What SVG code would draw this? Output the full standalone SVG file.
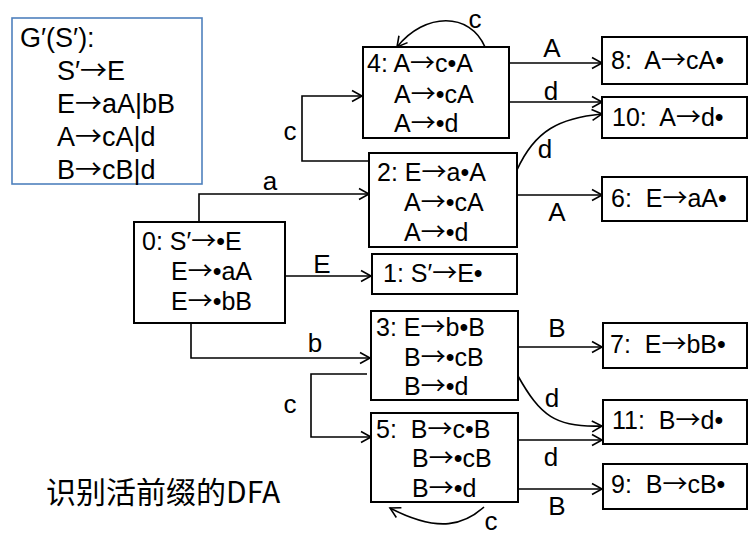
<svg xmlns="http://www.w3.org/2000/svg" width="755" height="551" viewBox="0 0 755 551">
<style>
.box{fill:#fff;stroke:#000;stroke-width:2}
.t{font-family:"Liberation Sans",Arial,sans-serif;font-size:25px;fill:#000;white-space:pre}
.g{font-size:27px}
.ar{font-family:"Noto Sans CJK SC",sans-serif}
.lbl{font-family:"Liberation Sans",Arial,sans-serif;font-size:26px;fill:#000;text-anchor:middle}
.e{fill:none;stroke:#000;stroke-width:1.6;marker-end:url(#ah)}
</style>
<defs>
<marker id="ah" markerUnits="userSpaceOnUse" markerWidth="14" markerHeight="14" refX="11" refY="7" orient="auto">
<path d="M1,1.5 L11,7 L1,12.5" fill="none" stroke="#000" stroke-width="1.6"/>
</marker>
</defs>
<rect width="755" height="551" fill="#fff"/>
<g id="grammar">
<rect x="12" y="18" width="190" height="166" fill="#fff" stroke="#4f81bd" stroke-width="1.6"/>
<text class="t g" x="20" y="47">G′(S′):</text>
<text class="t g" x="57" y="80">S′<tspan class="ar">→</tspan>E</text>
<text class="t g" x="57" y="113">E<tspan class="ar">→</tspan>aA|bB</text>
<text class="t g" x="57" y="146">A<tspan class="ar">→</tspan>cA|d</text>
<text class="t g" x="57" y="179">B<tspan class="ar">→</tspan>cB|d</text>
</g>
<g id="connectors">
<path class="e" d="M485,47 C470,12 425,12 397,47"/>
<path class="e" d="M509,63 H602"/>
<path class="e" d="M509,102 H602"/>
<path class="e" d="M517,170 C535,130 560,118 602,114"/>
<path class="e" d="M369,161 H302 V96 H362"/>
<path class="e" d="M517,195 H602"/>
<path class="e" d="M199,222 V194 H369"/>
<path class="e" d="M285,276 H371"/>
<path class="e" d="M191,323 V358 H370"/>
<path class="e" d="M518,347 H602"/>
<path class="e" d="M518,376 C540,415 555,428 602,426"/>
<path class="e" d="M367,374 H311 V437 H371"/>
<path class="e" d="M518,440 H602"/>
<path class="e" d="M518,489 H602"/>
<path class="e" d="M484,507 C465,524 440,534 390,508"/>
<text class="lbl" x="475" y="28">c</text>
<text class="lbl" x="552" y="57">A</text>
<text class="lbl" x="551" y="100">d</text>
<text class="lbl" x="545" y="158">d</text>
<text class="lbl" x="290" y="140">c</text>
<text class="lbl" x="557" y="221">A</text>
<text class="lbl" x="270" y="190">a</text>
<text class="lbl" x="322" y="273">E</text>
<text class="lbl" x="315" y="352">b</text>
<text class="lbl" x="557" y="337">B</text>
<text class="lbl" x="552" y="407">d</text>
<text class="lbl" x="290" y="413">c</text>
<text class="lbl" x="551" y="466">d</text>
<text class="lbl" x="557" y="515">B</text>
<text class="lbl" x="491" y="530">c</text>
</g>
<g id="n4">
<rect class="box" x="363" y="47" width="146" height="91"/>
<text class="t" x="367" y="72">4: A<tspan class="ar">→</tspan>c•A</text>
<text class="t" x="394" y="103">A<tspan class="ar">→</tspan>•cA</text>
<text class="t" x="394" y="132">A<tspan class="ar">→</tspan>•d</text>
</g>
<g id="n8">
<rect class="box" x="602" y="37" width="145" height="47"/>
<text class="t" x="611" y="69">8:  A<tspan class="ar">→</tspan>cA•</text>
</g>
<g id="n10">
<rect class="box" x="602" y="97" width="145" height="41"/>
<text class="t" x="612" y="126">10:  A<tspan class="ar">→</tspan>d•</text>
</g>
<g id="n2">
<rect class="box" x="369" y="153" width="148" height="94"/>
<text class="t" x="377" y="181">2: E<tspan class="ar">→</tspan>a•A</text>
<text class="t" x="404" y="211">A<tspan class="ar">→</tspan>•cA</text>
<text class="t" x="404" y="241">A<tspan class="ar">→</tspan>•d</text>
</g>
<g id="n6">
<rect class="box" x="602" y="177" width="145" height="44"/>
<text class="t" x="611" y="207">6:  E<tspan class="ar">→</tspan>aA•</text>
</g>
<g id="n0">
<rect class="box" x="134" y="222" width="151" height="101"/>
<text class="t" x="142" y="250">0: S′<tspan class="ar">→</tspan>•E</text>
<text class="t" x="171" y="280">E<tspan class="ar">→</tspan>•aA</text>
<text class="t" x="171" y="310">E<tspan class="ar">→</tspan>•bB</text>
</g>
<g id="n1">
<rect class="box" x="372" y="254" width="145" height="40"/>
<text class="t" x="383" y="282">1: S′<tspan class="ar">→</tspan>E•</text>
</g>
<g id="n3">
<rect class="box" x="371" y="311" width="147" height="89"/>
<text class="t" x="376" y="336">3: E<tspan class="ar">→</tspan>b•B</text>
<text class="t" x="404" y="366">B<tspan class="ar">→</tspan>•cB</text>
<text class="t" x="404" y="395">B<tspan class="ar">→</tspan>•d</text>
</g>
<g id="n7">
<rect class="box" x="603" y="323" width="144" height="45"/>
<text class="t" x="610" y="353">7:  E<tspan class="ar">→</tspan>bB•</text>
</g>
<g id="n11">
<rect class="box" x="603" y="400" width="144" height="44"/>
<text class="t" x="612" y="429">11:  B<tspan class="ar">→</tspan>d•</text>
</g>
<g id="n5">
<rect class="box" x="371" y="413" width="147" height="89"/>
<text class="t" x="376" y="438">5:  B<tspan class="ar">→</tspan>c•B</text>
<text class="t" x="412" y="467">B<tspan class="ar">→</tspan>•cB</text>
<text class="t" x="412" y="497">B<tspan class="ar">→</tspan>•d</text>
</g>
<g id="n9">
<rect class="box" x="603" y="464" width="144" height="45"/>
<text class="t" x="611" y="493">9:  B<tspan class="ar">→</tspan>cB•</text>
</g>
<text x="46" y="503" font-family="'Microsoft YaHei','Noto Sans CJK SC',sans-serif" font-size="30" fill="#000">识别活前缀的DFA</text>
</svg>
